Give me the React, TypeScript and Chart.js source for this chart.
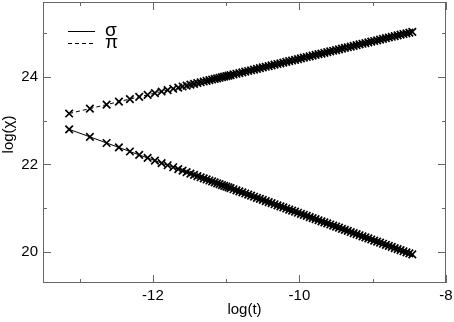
import { useEffect, useRef } from "react";
import { Chart, registerables } from "chart.js";
Chart.register(...registerables);

const logT = [
  -13.143, -12.86, -12.632, -12.464, -12.314, -12.187, -12.072, -11.973, -11.881, -11.799,
  -11.723, -11.654, -11.595, -11.54, -11.488, -11.439, -11.393, -11.349, -11.307, -11.267,
  -11.229, -11.192, -11.157, -11.123, -11.09, -11.058, -11.027, -10.997, -10.968, -10.94,
  -10.9, -10.86, -10.82, -10.78, -10.74, -10.7, -10.66, -10.62, -10.58, -10.54,
  -10.5, -10.46, -10.42, -10.38, -10.34, -10.3, -10.26, -10.22, -10.18, -10.14,
  -10.1, -10.06, -10.02, -9.98, -9.94, -9.9, -9.86, -9.82, -9.78, -9.74,
  -9.7, -9.66, -9.62, -9.58, -9.54, -9.5, -9.46, -9.42, -9.38, -9.34,
  -9.3, -9.26, -9.22, -9.18, -9.14, -9.1, -9.06, -9.02, -8.98, -8.94,
  -8.9, -8.86, -8.82, -8.78, -8.74, -8.7, -8.66, -8.62, -8.58, -8.54,
  -8.5, -8.46,
];

const sigmaVals = [
  22.8, 22.628, 22.489, 22.387, 22.295, 22.218, 22.148, 22.088, 22.032, 21.982,
  21.936, 21.894, 21.858, 21.824, 21.793, 21.763, 21.735, 21.708, 21.683, 21.658,
  21.635, 21.613, 21.591, 21.571, 21.551, 21.531, 21.512, 21.494, 21.476, 21.459,
  21.435, 21.411, 21.386, 21.362, 21.338, 21.313, 21.289, 21.265, 21.24, 21.216,
  21.192, 21.167, 21.143, 21.119, 21.094, 21.07, 21.046, 21.021, 20.997, 20.973,
  20.948, 20.924, 20.9, 20.875, 20.851, 20.827, 20.802, 20.778, 20.754, 20.729,
  20.705, 20.68, 20.656, 20.632, 20.607, 20.583, 20.559, 20.534, 20.51, 20.486,
  20.461, 20.437, 20.413, 20.388, 20.364, 20.34, 20.315, 20.291, 20.267, 20.242,
  20.218, 20.194, 20.169, 20.145, 20.121, 20.096, 20.072, 20.048, 20.023, 19.999,
  19.975, 19.95,
];

const piVals = [
  23.16, 23.272, 23.363, 23.43, 23.489, 23.54, 23.585, 23.625, 23.661, 23.694,
  23.724, 23.751, 23.775, 23.796, 23.817, 23.837, 23.855, 23.872, 23.889, 23.905,
  23.92, 23.935, 23.948, 23.962, 23.975, 23.988, 24.0, 24.012, 24.024, 24.035,
  24.05, 24.066, 24.082, 24.098, 24.114, 24.129, 24.145, 24.161, 24.177, 24.193,
  24.209, 24.225, 24.241, 24.256, 24.272, 24.288, 24.304, 24.32, 24.336, 24.352,
  24.368, 24.383, 24.399, 24.415, 24.431, 24.447, 24.463, 24.479, 24.495, 24.511,
  24.526, 24.542, 24.558, 24.574, 24.59, 24.606, 24.622, 24.638, 24.653, 24.669,
  24.685, 24.701, 24.717, 24.733, 24.749, 24.765, 24.78, 24.796, 24.812, 24.828,
  24.844, 24.86, 24.876, 24.892, 24.908, 24.923, 24.939, 24.955, 24.971, 24.987,
  25.003, 25.019,
];

const seriesLabels = ["σ", "π"];
const xMajor = [-12, -10, -8];
const xMinor = [-13, -11, -9];
const yMajor = [20, 22, 24];
const yMinor = [21, 23, 25];
const xTitle = "log(t)";
const yTitle = "log(χ)";

const FONT = "'Liberation Sans', Arial, Helvetica, sans-serif";

const framePlugin = {
  id: "frame",
  afterDraw(chart: any) {
    const { ctx, chartArea: a, scales } = chart;
    const xs = scales.x;
    const ys = scales.y;
    ctx.save();
    ctx.strokeStyle = "#666";
    ctx.lineWidth = 1;
    ctx.setLineDash([]);
    ctx.strokeRect(a.left + 0.5, a.top + 0.5, a.right - a.left - 1, a.bottom - a.top - 1);
    const drawX = (v: number, len: number) => {
      const p = Math.round(xs.getPixelForValue(v)) + 0.5;
      ctx.beginPath();
      ctx.moveTo(p, a.bottom);
      ctx.lineTo(p, a.bottom - len);
      ctx.moveTo(p, a.top);
      ctx.lineTo(p, a.top + len);
      ctx.stroke();
    };
    const drawY = (v: number, len: number) => {
      const p = Math.round(ys.getPixelForValue(v)) + 0.5;
      ctx.beginPath();
      ctx.moveTo(a.left, p);
      ctx.lineTo(a.left + len, p);
      ctx.moveTo(a.right, p);
      ctx.lineTo(a.right - len, p);
      ctx.stroke();
    };
    xMajor.forEach((v) => drawX(v, 8));
    xMinor.forEach((v) => drawX(v, 4));
    yMajor.forEach((v) => drawY(v, 8));
    yMinor.forEach((v) => drawY(v, 4));

    // y-axis title
    ctx.fillStyle = "#000";
    ctx.font = `15px ${FONT}`;
    ctx.textAlign = "center";
    ctx.textBaseline = "middle";
    ctx.save();
    ctx.translate(9, (a.top + a.bottom) / 2 - 8);
    ctx.rotate(-Math.PI / 2);
    ctx.fillText(yTitle, 0, 0);
    ctx.restore();

    // legend
    ctx.strokeStyle = "#000";
    ctx.lineWidth = 1;
    const lx0 = a.left + 25;
    const lx1 = a.left + 52;
    const rows = [a.top + 29.5, a.top + 41.5];
    chart.data.datasets.forEach((ds: any, i: number) => {
      ctx.setLineDash(ds.borderDash || []);
      ctx.beginPath();
      ctx.moveTo(lx0, rows[i]);
      ctx.lineTo(lx1, rows[i]);
      ctx.stroke();
      ctx.setLineDash([]);
      ctx.font = `19px ${FONT}`;
      ctx.textBaseline = "middle";
      ctx.textAlign = "left";
      ctx.fillText(ds.label, a.left + 62, rows[i] - 1);
    });
    ctx.restore();
  },
};

export default function App() {
  const ref = useRef<HTMLCanvasElement | null>(null);
  useEffect(() => {
    document.body.style.margin = "0";
    const canvas = ref.current!;
    const pointCommon = {
      showLine: true,
      borderColor: "#000",
      backgroundColor: "#000",
      borderWidth: 1,
      pointStyle: "crossRot",
      pointRadius: 5.3,
      pointBorderColor: "#000",
      pointBorderWidth: 1.7,
    };
    const chart = new Chart(canvas, {
      type: "scatter",
      data: {
        datasets: [
          {
            label: seriesLabels[0],
            data: logT.map((x, i) => ({ x, y: sigmaVals[i] })),
            ...pointCommon,
          },
          {
            label: seriesLabels[1],
            data: logT.map((x, i) => ({ x, y: piVals[i] })),
            ...pointCommon,
            borderDash: [4, 3],
          },
        ],
      },
      options: {
        animation: false,
        responsive: false,
        devicePixelRatio: 1,
        layout: { autoPadding: false, padding: { top: 2, right: 8, left: 0, bottom: 0 } },
        plugins: { legend: { display: false }, tooltip: { enabled: false } },
        scales: {
          x: {
            type: "linear",
            min: -13.5,
            max: -8,
            afterBuildTicks: (s: any) => {
              s.ticks = xMajor.map((v) => ({ value: v }));
            },
            afterFit: (s: any) => {
              s.height = 39;
              s.paddingLeft = 0;
              s.paddingRight = 0;
            },
            grid: { display: false, drawTicks: false },
            border: { display: false },
            ticks: {
              color: "#000",
              padding: 4,
              maxRotation: 0,
              font: { family: FONT, size: 15 },
              callback: (v: any) => String(v),
            },
            title: {
              display: true,
              text: xTitle,
              color: "#000",
              font: { family: FONT, size: 15 },
              padding: { top: 0, bottom: 3 },
            },
          },
          y: {
            type: "linear",
            min: 19.3,
            max: 25.7,
            afterBuildTicks: (s: any) => {
              s.ticks = yMajor.map((v) => ({ value: v }));
            },
            afterFit: (s: any) => {
              s.width = 43;
              s.paddingTop = 0;
              s.paddingBottom = 0;
            },
            grid: { display: false, drawTicks: false },
            border: { display: false },
            ticks: {
              color: "#000",
              padding: 5,
              font: { family: FONT, size: 15 },
              callback: (v: any) => String(v),
            },
            title: { display: false },
          },
        },
      },
      plugins: [framePlugin],
    });
    return () => chart.destroy();
  }, []);
  return <canvas ref={ref} width={454} height={322} style={{ display: "block", width: 454, height: 322 }} />;
}
